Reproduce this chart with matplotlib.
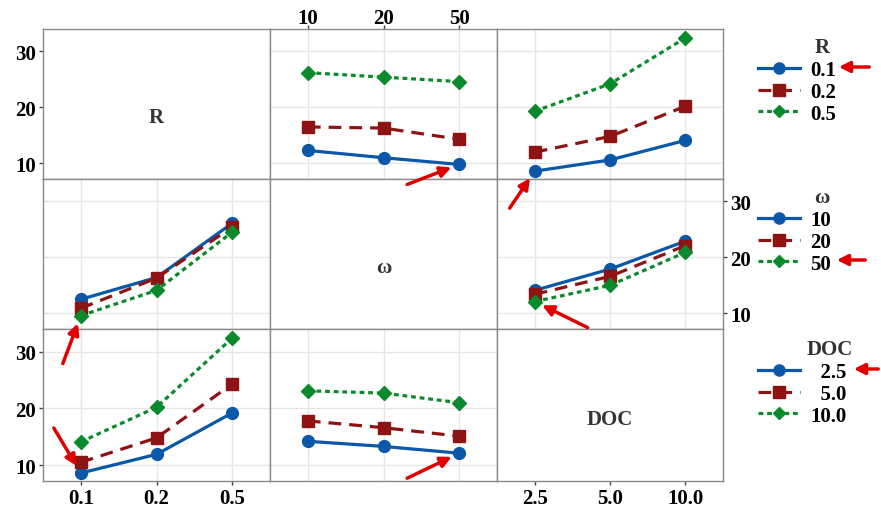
import matplotlib.pyplot as plt
from matplotlib.lines import Line2D
from matplotlib.text import Annotation
from matplotlib.patches import FancyArrowPatch

R_levels = ['0.1', '0.2', '0.5']
w_levels = ['10', '20', '50']
doc_levels = ['2.5', '5.0', '10.0']

# mean response, one row per trace level, one column per x level
R_vs_w = [[12.3, 11.0, 9.8], [16.5, 16.3, 14.3], [26.2, 25.4, 24.6]]
R_vs_doc = [[8.6, 10.6, 14.1], [12.0, 14.8, 20.2], [19.3, 24.2, 32.4]]
w_vs_R = [[12.5, 16.4, 26.1], [10.9, 16.3, 25.4], [9.6, 14.1, 24.5]]
w_vs_doc = [[14.1, 17.9, 22.9], [13.4, 16.6, 22.1], [12.1, 15.0, 20.9]]
doc_vs_R = [[8.6, 11.9, 19.2], [10.5, 14.8, 24.3], [14.1, 20.2, 32.4]]
doc_vs_w = [[14.2, 13.3, 12.1], [17.8, 16.6, 15.1], [23.1, 22.7, 21.0]]

colors = ['#0b57a8', '#8e1414', '#0a8a2c']
styles = ['-', (0, (4, 2.5)), (0, (1.5, 1.2))]
markers = ['o', 's', 'D']
msizes = [8.5, 8.5, 7]

names = ['R', 'ω', 'DOC']
levels = [R_levels, w_levels, doc_levels]
panels = {
    (0, 1): R_vs_w, (0, 2): R_vs_doc,
    (1, 0): w_vs_R, (1, 2): w_vs_doc,
    (2, 0): doc_vs_R, (2, 1): doc_vs_w,
}

plt.rcParams['font.family'] = ['Liberation Serif', 'DejaVu Serif']
plt.rcParams['font.weight'] = 'bold'

W, H = 881, 510
fig = plt.figure(figsize=(W / 100, H / 100), dpi=100)

xs = [43, 270, 497, 723]
ys = [30, 180, 330, 482]
red = '#e00000'
fs = 15
axes = {}

for i in range(3):
    for j in range(3):
        ax = fig.add_axes([xs[j] / W, 1 - ys[i + 1] / H,
                           (xs[j + 1] - xs[j]) / W, (ys[i + 1] - ys[i]) / H])
        axes[(i, j)] = ax
        ax.set_xlim(0.5, 3.5)
        ax.set_ylim(7.2, 34)
        for s in ax.spines.values():
            s.set_color('#8a8a8a')
            s.set_linewidth(1)
        ax.tick_params(length=3, color='#444444', labelsize=fs, width=1, pad=2)
        ax.set_xticks([1, 2, 3])
        ax.set_yticks([10, 20, 30])
        ax.tick_params(bottom=False, left=False, labelbottom=False, labelleft=False)
        if i == j:
            ax.text(2, 18.2, names[i], ha='center', va='center', fontsize=15,
                    fontweight='bold', color='#333333')
            continue
        ax.grid(True, color='#e6e6e6', lw=1)
        ax.set_axisbelow(True)
        data = panels[(i, j)]
        for k in range(3):
            ax.plot([1, 2, 3], data[k], color=colors[k], ls=styles[k], lw=2.3,
                    marker=markers[k], ms=msizes[k], clip_on=False, zorder=3)
        ax.set_xticklabels(levels[j])

# outer tick labels
for i in (0, 2):
    axes[(i, 0)].tick_params(left=True, labelleft=True)
    axes[(i, 0)].set_yticklabels(['10', '20', '30'])
axes[(1, 2)].yaxis.tick_right()
axes[(1, 2)].tick_params(right=True, labelright=True)
axes[(0, 1)].xaxis.tick_top()
axes[(0, 1)].tick_params(top=True, labeltop=True, pad=-2)
axes[(2, 0)].tick_params(bottom=True, labelbottom=True)
axes[(2, 2)].tick_params(bottom=True, labelbottom=True)
axes[(2, 2)].set_xticklabels(doc_levels)
axes[(0, 0)].set_yticklabels(['10', '20', '30'])

# legends
leg_top = [48, 198, 350]
title_x = [822, 822, 830]
leg_labels = [R_levels, w_levels, ['\u2007' + d if len(d) < 4 else d for d in doc_levels]]
for n in range(3):
    handles = [Line2D([], [], color=colors[k], ls=styles[k], lw=2.3,
                      marker=markers[k], ms=msizes[k] - 0.5) for k in range(3)]
    leg = fig.legend(handles, leg_labels[n], loc='upper left', frameon=False,
                     bbox_to_anchor=(750 / W, 1 - (leg_top[n] + 5) / H),
                     handlelength=2.0, fontsize=fs, labelspacing=0.08,
                     handletextpad=0.5, borderaxespad=0)
    fig.text(title_x[n] / W, 1 - leg_top[n] / H, names[n], ha='center',
             va='center', fontsize=fs, fontweight='bold', color='#333333')

# red arrows pointing at chosen points
arrow = dict(arrowstyle='-|>', color=red, lw=2.5, mutation_scale=16,
             shrinkA=0, shrinkB=6)
notes = [((0, 1), 3, 9.8, (-52, -20)), ((0, 2), 1, 8.6, (-25, -37)),
         ((1, 0), 1, 9.6, (-18, -48)), ((2, 0), 1, 8.6, (-27, 45)),
         ((1, 2), 1, 12.1, (53, -26)), ((2, 1), 3, 12.1, (-52, -25))]
for key, x, y, off in notes:
    a = Annotation('', xy=(x, y), xycoords=axes[key].transData, xytext=off,
                   textcoords='offset pixels', arrowprops=arrow,
                   annotation_clip=False)
    a.set_zorder(10)
    fig.add_artist(a)

for hx, tx, y in [(836, 872, 68), (834, 868, 261), (851, 881, 370)]:
    fig.add_artist(FancyArrowPatch(
        (tx / W, 1 - y / H), (hx / W, 1 - y / H), transform=fig.transFigure,
        arrowstyle='-|>', color=red, lw=2.5, mutation_scale=16))

fig.savefig('out.png', dpi=100)
